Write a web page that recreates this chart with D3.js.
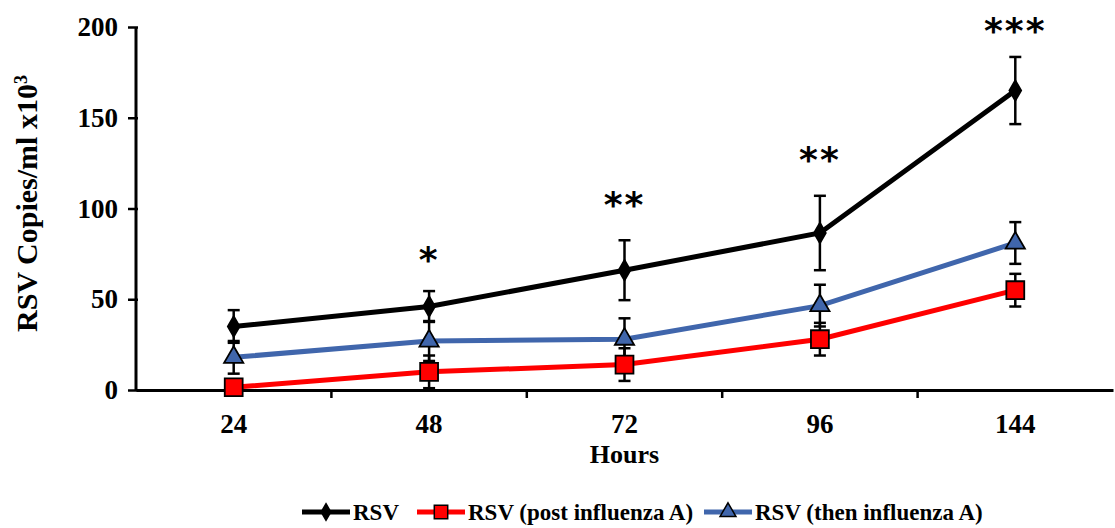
<!DOCTYPE html>
<html>
<head>
<meta charset="utf-8">
<script src="https://cdn.jsdelivr.net/npm/d3@7"></script>
<style>
  body { margin: 0; background: #fff; }
  text { font-family: "Liberation Serif", "Times New Roman", serif; font-weight: bold; }
</style>
</head>
<body>
<svg id="chart" width="1115" height="528"></svg>
<script>
var hours = ["24", "48", "72", "96", "144"];
var yTicks = [0, 50, 100, 150, 200];

var rsv = [35, 46, 66, 86.5, 165];
var rsvErr = [9, 8.5, 16.5, 20.5, 18.5];
var rsvPost = [1.5, 10, 14, 28, 55];
var rsvPostErr = [3, 9, 9, 9, 9];
var rsvThen = [18, 27, 28, 46.5, 81];
var rsvThenErr = [9, 11, 11.5, 11.5, 11.5];
var stars = ["", "*", "**", "**", "***"];
var starY = [0, 77, 107, 132, 203];

var series = [
    {name: "RSV", values: rsv, err: rsvErr, color: "#000000", shape: "diamond"},
    {name: "RSV (post influenza A)", values: rsvPost, err: rsvPostErr, color: "#ff0000", shape: "square"},
    {name: "RSV (then influenza A)", values: rsvThen, err: rsvThenErr, color: "#4066ac", shape: "triangle"}
];

var margin = {top: 27, right: 2, bottom: 138, left: 136};
var width = 1115 - margin.left - margin.right;
var height = 528 - margin.top - margin.bottom;

var scaleX = d3.scaleBand().domain(hours).range([0, width]);
var scaleY = d3.scaleLinear().domain([0, 200]).range([height, 0]);

var svg = d3.select("#chart");
var chart = svg.append("g")
    .attr("transform", "translate(" + margin.left + "," + margin.top + ")");

// axes
var xAxis = d3.axisBottom(scaleX).tickSize(0).tickPadding(24);
var yAxis = d3.axisLeft(scaleY).tickValues(yTicks).tickSize(10).tickPadding(8);

var gx = chart.append("g")
    .attr("transform", "translate(0," + height + ")")
    .call(xAxis);
gx.select(".domain").attr("stroke", "#000").attr("stroke-width", 3);
gx.selectAll("text").style("font-size", "27px").attr("fill", "#000");
// tick marks between categories
gx.selectAll(".sep")
    .data(hours.slice(1))
    .enter()
    .append("line")
        .attr("x1", function(d) { return scaleX(d) })
        .attr("x2", function(d) { return scaleX(d) })
        .attr("y1", 0)
        .attr("y2", 8)
        .attr("stroke", "#000")
        .attr("stroke-width", 2.5);

var gy = chart.append("g").call(yAxis);
gy.select(".domain").attr("stroke", "#000").attr("stroke-width", 3).attr("d", "M0," + height + "V0");
gy.selectAll(".tick line").attr("stroke", "#000").attr("stroke-width", 2.5).attr("x2", -8).attr("x1", 2);
gy.selectAll("text").style("font-size", "27px").attr("fill", "#000");

// axis titles
chart.append("text")
    .attr("transform", "translate(" + (-99) + "," + (height / 2 - 5) + ") rotate(-90)")
    .attr("text-anchor", "middle")
    .style("font-size", "30px")
    .html('RSV Copies/ml x10<tspan dy="-10" style="font-size:18px">3</tspan>');

chart.append("text")
    .attr("x", width / 2)
    .attr("y", height + 73)
    .attr("text-anchor", "middle")
    .style("font-size", "26px")
    .text("Hours");

var cx = function(i) { return scaleX(hours[i]) + scaleX.bandwidth() / 2 };

var symbolFor = function(shape) {
    if (shape == "diamond") return d3.symbol().type(d3.symbolDiamond).size(120)();
    if (shape == "square") return d3.symbol().type(d3.symbolSquare).size(320)();
    return d3.symbol().type(d3.symbolTriangle).size(160)();
};

var line = d3.line()
    .x(function(d, i) { return cx(i) })
    .y(function(d) { return scaleY(d) });

// draw order: blue, red, black on top
[2, 1, 0].forEach(function(k) {
    var s = series[k];
    var g = chart.append("g");
    // error bars
    s.values.forEach(function(v, i) {
        var x = cx(i);
        var top = scaleY(v + s.err[i]);
        var bot = scaleY(Math.max(0, v - s.err[i]));
        g.append("line").attr("x1", x).attr("x2", x).attr("y1", top).attr("y2", bot)
            .attr("stroke", "#000").attr("stroke-width", 2.5);
        [top, bot].forEach(function(yy) {
            g.append("line").attr("x1", x - 6).attr("x2", x + 6).attr("y1", yy).attr("y2", yy)
                .attr("stroke", "#000").attr("stroke-width", 2.5);
        });
    });
    g.append("path")
        .datum(s.values)
        .attr("d", line)
        .attr("fill", "none")
        .attr("stroke", s.color)
        .attr("stroke-width", 5);
    g.selectAll(".pt")
        .data(s.values)
        .enter()
        .append("path")
            .attr("transform", function(d, i) { return "translate(" + cx(i) + "," + scaleY(d) + ")" })
            .attr("d", symbolFor(s.shape))
            .attr("fill", s.color)
            .attr("stroke", "#000")
            .attr("stroke-width", 1.8);
});

// significance stars
chart.selectAll(".star")
    .data(stars)
    .enter()
    .append("text")
        .attr("x", function(d, i) { return cx(i) })
        .attr("y", function(d, i) { return scaleY(starY[i]) })
        .attr("dy", "0.6em")
        .attr("text-anchor", "middle")
        .style("font-family", "'DejaVu Sans', sans-serif")
        .style("font-size", "36px")
        .style("letter-spacing", "2px")
        .text(function(d) { return d });

// legend
var legend = svg.append("g").attr("transform", "translate(302,512)");
var legX = [0, 115, 402];
series.forEach(function(s, k) {
    var lg = legend.append("g").attr("transform", "translate(" + legX[k] + ",0)");
    lg.append("line").attr("x1", 0).attr("x2", 48).attr("y1", 0).attr("y2", 0)
        .attr("stroke", s.color).attr("stroke-width", 5);
    var sz = s.shape == "diamond" ? 80 : (s.shape == "square" ? 180 : 110);
    var sym = s.shape == "diamond" ? d3.symbolDiamond : (s.shape == "square" ? d3.symbolSquare : d3.symbolTriangle);
    lg.append("path")
        .attr("transform", "translate(24,0)")
        .attr("d", d3.symbol().type(sym).size(sz)())
        .attr("fill", s.color)
        .attr("stroke", "#000")
        .attr("stroke-width", 1.5);
    lg.append("text")
        .attr("x", 51)
        .attr("y", 0)
        .attr("dy", "0.35em")
        .style("font-size", "23px")
        .text(s.name);
});
</script>
</body>
</html>
